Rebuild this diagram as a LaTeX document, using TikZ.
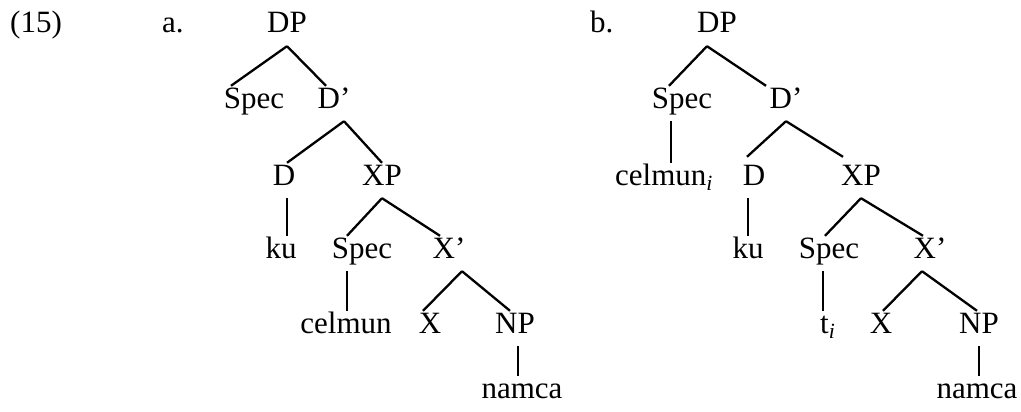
\documentclass[tikz,border=0pt]{standalone}
\usepackage{fontspec}
\setmainfont{Liberation Serif}
\usepackage{tikz}

\begin{document}
\begin{tikzpicture}[x=1pt,y=-1pt,
        font=\fontsize{31}{37}\selectfont,
        lab/.style={anchor=base,inner xsep=0pt,inner ysep=8pt,text height=14pt,text depth=5pt},
        br/.style={line width=2.3pt}]
        \useasboundingbox (0,0) rectangle (1021,412);
        % example number
        \node[lab,anchor=base west] (num) at (10,33) {(15)};
        % tree a
        \node[lab,anchor=base west] (tagA) at (162,33) {a.};
        \node[lab] (DPa) at (287,33) {DP};
        \node[lab] (SpecA) at (254,108) {Spec};
        \node[lab] (DbarA) at (334,108) {D’};
        \node[lab] (Da) at (284,185) {D};
        \node[lab] (XPa) at (382,185) {XP};
        \node[lab] (kuA) at (281,258) {ku};
        \node[lab] (SpecXa) at (362,258) {Spec};
        \node[lab] (XbarA) at (449,258) {X’};
        \node[lab] (celmunA) at (346,333) {celmun};
        \node[lab] (Xa) at (430,333) {X};
        \node[lab] (NPa) at (515,333) {NP};
        \node[lab] (namcaA) at (522,398) {namca};
        \draw[br] (DPa.south) -- ([xshift=-23pt]SpecA.north);
        \draw[br] (DPa.south) -- ([xshift=-8pt]DbarA.north);
        \draw[br] ([xshift=10pt]DbarA.south) -- ([xshift=3pt]Da.north);
        \draw[br] ([xshift=10pt]DbarA.south) -- (XPa.north);
        \draw[br] ([xshift=3pt]Da.south) -- ([xshift=3pt]Da.south |- kuA.north);
        \draw[br] (XPa.south) -- ([xshift=-15pt]SpecXa.north);
        \draw[br] (XPa.south) -- ([xshift=-9pt]XbarA.north);
        \draw[br] ([xshift=-15pt]SpecXa.south) -- ([xshift=-15pt]SpecXa.south |- celmunA.north);
        \draw[br] ([xshift=13pt]XbarA.south) -- ([xshift=-7pt]Xa.north);
        \draw[br] ([xshift=13pt]XbarA.south) -- ([xshift=-5pt]NPa.north);
        \draw[br] ([xshift=3pt]NPa.south) -- ([xshift=3pt]NPa.south |- namcaA.north);
        % tree b
        \node[lab,anchor=base west] (tagB) at (590,33) {b.};
        \node[lab] (DPb) at (717,33) {DP};
        \node[lab] (SpecB) at (682,108) {Spec};
        \node[lab] (DbarB) at (786,108) {D’};
        \node[lab,anchor=base west] (celmunB) at (615,185) {celmun\textsubscript{\textit{i}}};
        \node[lab] (Db) at (754,185) {D};
        \node[lab] (XPb) at (861,185) {XP};
        \node[lab] (kuB) at (748,258) {ku};
        \node[lab] (SpecXb) at (829,258) {Spec};
        \node[lab] (XbarB) at (930,258) {X’};
        \node[lab,anchor=base west] (tB) at (820,333) {t\textsubscript{\textit{i}}};
        \node[lab] (Xb) at (881,333) {X};
        \node[lab] (NPb) at (979,333) {NP};
        \node[lab] (namcaB) at (977,398) {namca};
        \draw[br] ([xshift=-10pt]DPb.south) -- ([xshift=-13pt]SpecB.north);
        \draw[br] ([xshift=-10pt]DPb.south) -- ([xshift=-20pt]DbarB.north);
        \draw[br] ([xshift=-11pt]SpecB.south) -- ([xshift=-11pt]SpecB.south |- celmunB.north);
        \draw[br] (DbarB.south) -- ([xshift=-7pt,yshift=6pt]Db.north);
        \draw[br] (DbarB.south) -- ([xshift=-18pt,yshift=6pt]XPb.north);
        \draw[br] ([xshift=-6pt]Db.south) -- ([xshift=-6pt]Db.south |- kuB.north);
        \draw[br] (XPb.south) -- ([xshift=-4pt]SpecXb.north);
        \draw[br] (XPb.south) -- ([xshift=-7pt]XbarB.north);
        \draw[br] ([xshift=-6pt]SpecXb.south) -- ([xshift=-6pt]SpecXb.south |- tB.north);
        \draw[br] ([xshift=-8pt]XbarB.south) -- ([xshift=2pt]Xb.north);
        \draw[br] ([xshift=-8pt]XbarB.south) -- ([xshift=-2pt]NPb.north);
        \draw[br] (NPb.south) -- (NPb.south |- namcaB.north);
\end{tikzpicture}
\end{document}
